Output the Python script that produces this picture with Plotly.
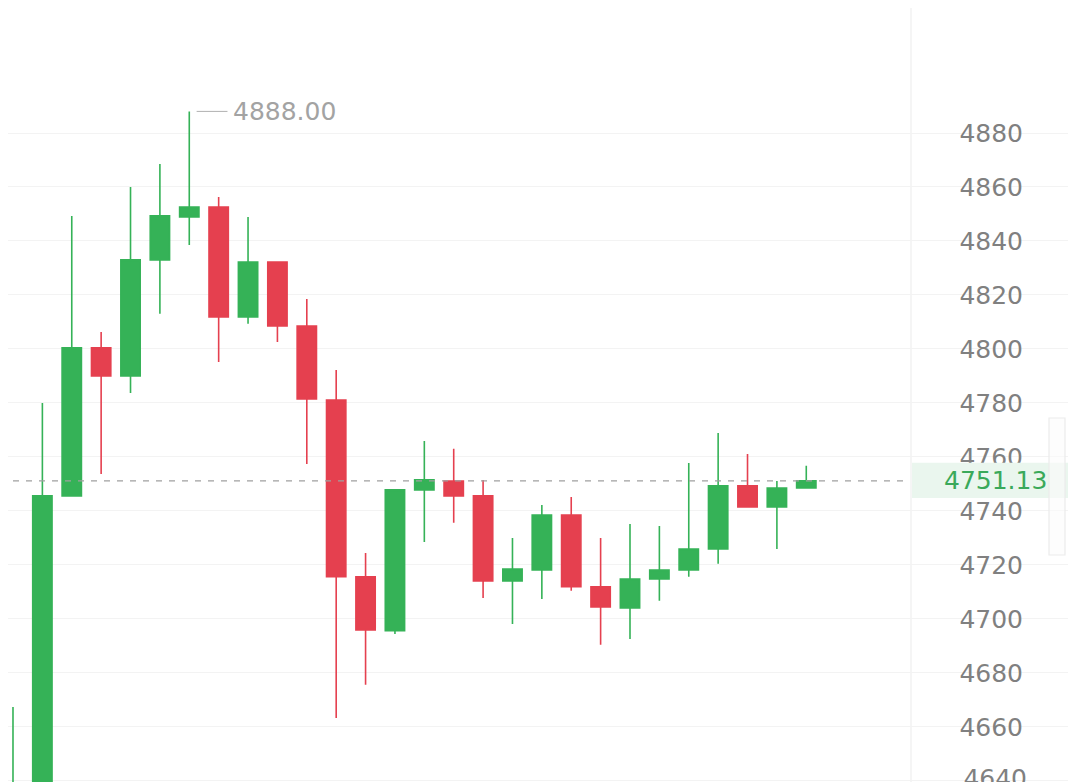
import plotly.graph_objects as go

# ---- data ----
idx = list(range(28))
opens = [4620.0, 4630.0, 4745.6, 4800.4, 4790.0, 4833.0, 4848.9, 4852.6, 4811.9, 4832.2,
         4808.5, 4781.1, 4715.6, 4695.6, 4747.8, 4751.1, 4745.6, 4714.1, 4718.1, 4738.5,
         4711.9, 4704.1, 4714.8, 4718.1, 4725.9, 4749.3, 4741.5, 4748.5]
highs = [4667.4, 4780.0, 4849.3, 4806.3, 4860.0, 4868.5, 4888.0, 4856.3, 4848.9, 4832.2,
         4818.5, 4792.2, 4724.4, 4747.8, 4765.9, 4763.0, 4751.5, 4730.0, 4742.2, 4745.2,
         4730.0, 4735.2, 4734.4, 4757.8, 4768.9, 4761.1, 4751.1, 4756.7]
lows = [4610.0, 4615.0, 4745.6, 4753.7, 4783.7, 4813.0, 4838.5, 4795.2, 4809.3, 4802.6,
        4757.4, 4663.3, 4675.6, 4694.4, 4728.5, 4735.6, 4707.8, 4698.1, 4707.4, 4710.4,
        4690.4, 4692.6, 4706.7, 4715.6, 4720.4, 4741.5, 4725.9, 4748.5]
closes = [4635.0, 4745.6, 4800.4, 4790.0, 4833.0, 4849.3, 4852.6, 4811.9, 4832.2, 4808.5,
          4781.5, 4715.6, 4695.9, 4747.8, 4751.5, 4745.6, 4714.1, 4718.5, 4738.5, 4711.9,
          4704.4, 4714.8, 4718.1, 4725.9, 4749.3, 4741.5, 4748.5, 4751.13]
y_ticks = [4640, 4660, 4680, 4700, 4720, 4740, 4760, 4780, 4800, 4820, 4840, 4860, 4880]
last_price = 4751.13

GREEN = "#35b257"
RED = "#e5404f"
GRID = "#f3f3f3"
LABEL = "#808080"
FONT = "DejaVu Sans"
FSIZE = 25

# page body has an 8px margin; figure fills the rest of the 1076x782 window
W, H = 1068, 774
X_RANGE = [-0.170, 36.18]
Y_RANGE = [4639.6, 4926.3]


def px(x):  # window x pixel -> paper fraction
    return (x - 8) / W


def py(y):  # window y pixel -> paper fraction
    return 1 - (y - 8) / H


fig = go.Figure()
fig.add_trace(go.Candlestick(
    x=idx, open=opens, high=highs, low=lows, close=closes,
    increasing=dict(line=dict(color=GREEN, width=1.6), fillcolor=GREEN),
    decreasing=dict(line=dict(color=RED, width=1.6), fillcolor=RED),
    whiskerwidth=0, showlegend=False, hoverinfo="skip",
))

# lowest tick label sits on the bottom edge: draw it as clipped text so only its top shows
low_ticks = [v for v in y_ticks if v - Y_RANGE[0] < 2]
label_x = X_RANGE[0] + (X_RANGE[1] - X_RANGE[0]) * px(1027)
fig.add_trace(go.Scatter(
    x=[label_x] * len(low_ticks), y=low_ticks, mode="text",
    text=[str(v) for v in low_ticks], textposition="middle left",
    textfont=dict(family=FONT, size=FSIZE, color=LABEL),
    cliponaxis=True, showlegend=False, hoverinfo="skip",
))

# high marker annotation
hi_i = max(range(len(highs)), key=lambda k: highs[k])
hi_v = highs[hi_i]
fig.add_shape(type="line", xref="x", yref="y", x0=hi_i + 0.25, x1=hi_i + 1.3,
              y0=hi_v, y1=hi_v, line=dict(color="#b0b0b0", width=1))
fig.add_annotation(x=hi_i + 1.42, y=hi_v, xref="x", yref="y", text=f"{hi_v:.2f}",
                   showarrow=False, xanchor="left", yanchor="middle",
                   font=dict(family=FONT, size=FSIZE, color="#a3a3a3"))

# right panel separator
fig.add_shape(type="line", xref="paper", yref="paper", x0=px(911), x1=px(911), y0=0, y1=1,
              line=dict(color="#efefef", width=1.2), layer="below")

# last price dashed line
fig.add_shape(type="line", xref="paper", yref="y", x0=px(0), x1=px(908),
              y0=last_price, y1=last_price,
              line=dict(color="#a0a0a0", width=1.3, dash="6px,7px"))
# last price tag
fig.add_shape(type="rect", xref="paper", yref="y", x0=px(912), x1=1.0,
              y0=last_price - 6.3, y1=last_price + 6.7,
              fillcolor="#eaf6ee", line=dict(width=0), layer="above")
fig.add_annotation(x=px(995), y=last_price, xref="paper", yref="y", text=f"{last_price:.2f}",
                   showarrow=False, xanchor="center", yanchor="middle",
                   font=dict(family=FONT, size=FSIZE, color="#3aa95a"))

# scroll indicator
fig.add_shape(type="rect", xref="paper", yref="paper",
              x0=px(1049), x1=px(1065), y0=py(555), y1=py(418),
              fillcolor="rgba(252,252,252,0.6)", line=dict(color="#ececec", width=1.2),
              layer="above")

fig.update_layout(
    width=W, height=H,
    margin=dict(l=0, r=0, t=0, b=0),
    paper_bgcolor="white", plot_bgcolor="white",
    boxgap=0.06, boxgroupgap=0.3,
    font=dict(family=FONT),
    showlegend=False,
)
fig.update_xaxes(range=X_RANGE, visible=False, showgrid=False,
                 rangeslider=dict(visible=False), fixedrange=True)
fig.update_yaxes(range=Y_RANGE, side="right", ticklabelposition="inside",
                 tickvals=y_ticks, ticktext=[str(v) for v in y_ticks],
                 ticklabelstandoff=50, showgrid=True, gridcolor=GRID, gridwidth=1,
                 zeroline=False, showline=False, ticks="",
                 tickfont=dict(family=FONT, size=FSIZE, color=LABEL), fixedrange=True)

fig.write_html("out.html")
